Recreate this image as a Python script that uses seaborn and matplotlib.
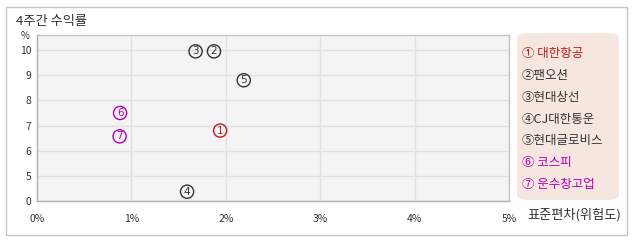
import matplotlib
matplotlib.use("Agg")
import matplotlib.pyplot as plt
import seaborn as sns
import pandas as pd
from matplotlib.patches import FancyBboxPatch, Rectangle

# ---- data ----
names = ["대한항공", "팬오션", "현대상선", "CJ대한통운", "현대글로비스", "코스피", "운수창고업"]
marks = ["①", "②", "③", "④", "⑤", "⑥", "⑦"]
risk = [1.94, 1.875, 1.68, 1.59, 2.19, 0.88, 0.875]          # 표준편차 (%)
ret = [6.8, 9.95, 9.95, 1.85, 8.8, 7.5, 6.57]                 # 4주간 수익률 (%)
colors = ["#b81c1c", "#333333", "#333333", "#333333", "#333333", "#b400b4", "#b400b4"]
x_ticks = [0, 1, 2, 3, 4, 5]
x_labels = ["0%", "1%", "2%", "3%", "4%", "5%"]
y_tick_vals = [0, 5, 6, 7, 8, 9, 10]


def ypos(v):
    # broken axis: 0..5 compressed into one unit
    return v if v >= 5 else 4 + v / 5.0


sns.set_theme(style="white")
plt.rcParams["font.family"] = ["Noto Sans CJK KR", "DejaVu Sans"]

fig = plt.figure(figsize=(6.38, 2.42), dpi=100)
fig.patch.set_facecolor("white")

# outer border
fig.add_artist(Rectangle((6 / 638, 1 - 235 / 242), 621 / 638, 228 / 242,
                         transform=fig.transFigure, fill=False,
                         edgecolor="#c4c4c4", linewidth=1))

ax = fig.add_axes([37 / 638, 1 - 201 / 242, 472 / 638, 166.5 / 242])
ax.set_facecolor("#f4f4f4")

df = pd.DataFrame({"risk": risk, "pos": [ypos(v) for v in ret], "name": names})
sns.scatterplot(data=df, x="risk", y="pos", ax=ax, s=90, marker="o",
                facecolor="none", edgecolor=colors, linewidth=1.0, legend=False)
for xi, yi, m, c in zip(df["risk"], df["pos"], range(1, 8), colors):
    ax.text(xi, yi, str(m), color=c, fontsize=7.5, ha="center", va="center",
            family="DejaVu Sans")

ax.set_xlim(0, 5)
ax.set_ylim(4, 10.62)
ax.set_xticks(x_ticks)
ax.set_xticklabels(x_labels)
ax.set_yticks([ypos(v) for v in y_tick_vals])
ax.set_yticklabels([str(v) for v in y_tick_vals])
ax.tick_params(axis="both", labelsize=7.5, colors="#333333", length=0, pad=4)
ax.tick_params(axis="x", pad=9)
ax.set_xlabel("")
ax.set_ylabel("")
ax.grid(True, color="#e0e0e0", linewidth=1)
ax.set_axisbelow(True)
for sp in ax.spines.values():
    sp.set_visible(True)
    sp.set_color("#c4c4c4")
    sp.set_linewidth(1)
ax.spines["left"].set_color("#b0b0b0")
ax.spines["bottom"].set_color("#b0b0b0")

# titles
fig.text(16 / 638, 1 - 21.5 / 242, "4주간 수익률", fontsize=9.5, color="#333333",
         ha="left", va="center")
fig.text(25 / 638, 1 - 36 / 242, "%", fontsize=7, color="#333333",
         ha="center", va="center")
fig.text(527 / 638, 1 - 215 / 242, "표준편차(위험도)", fontsize=9.5, color="#333333",
         ha="left", va="center")

# legend box
fig.add_artist(FancyBboxPatch((517 / 638, 1 - 200 / 242), 102 / 638, 167 / 242,
                              boxstyle="round,pad=0,rounding_size=0.02",
                              transform=fig.transFigure, facecolor="#f5e7df",
                              edgecolor="none"))
for i, (m, n, c) in enumerate(zip(marks, names, colors)):
    fig.text(522 / 638, 1 - (54 + i * 21.7) / 242, f"{m}{n}" if i in (1, 2, 3, 4) else f"{m} {n}",
             fontsize=9, color=c, ha="left", va="center")

fig.savefig("out.png", dpi=100, facecolor="white")
